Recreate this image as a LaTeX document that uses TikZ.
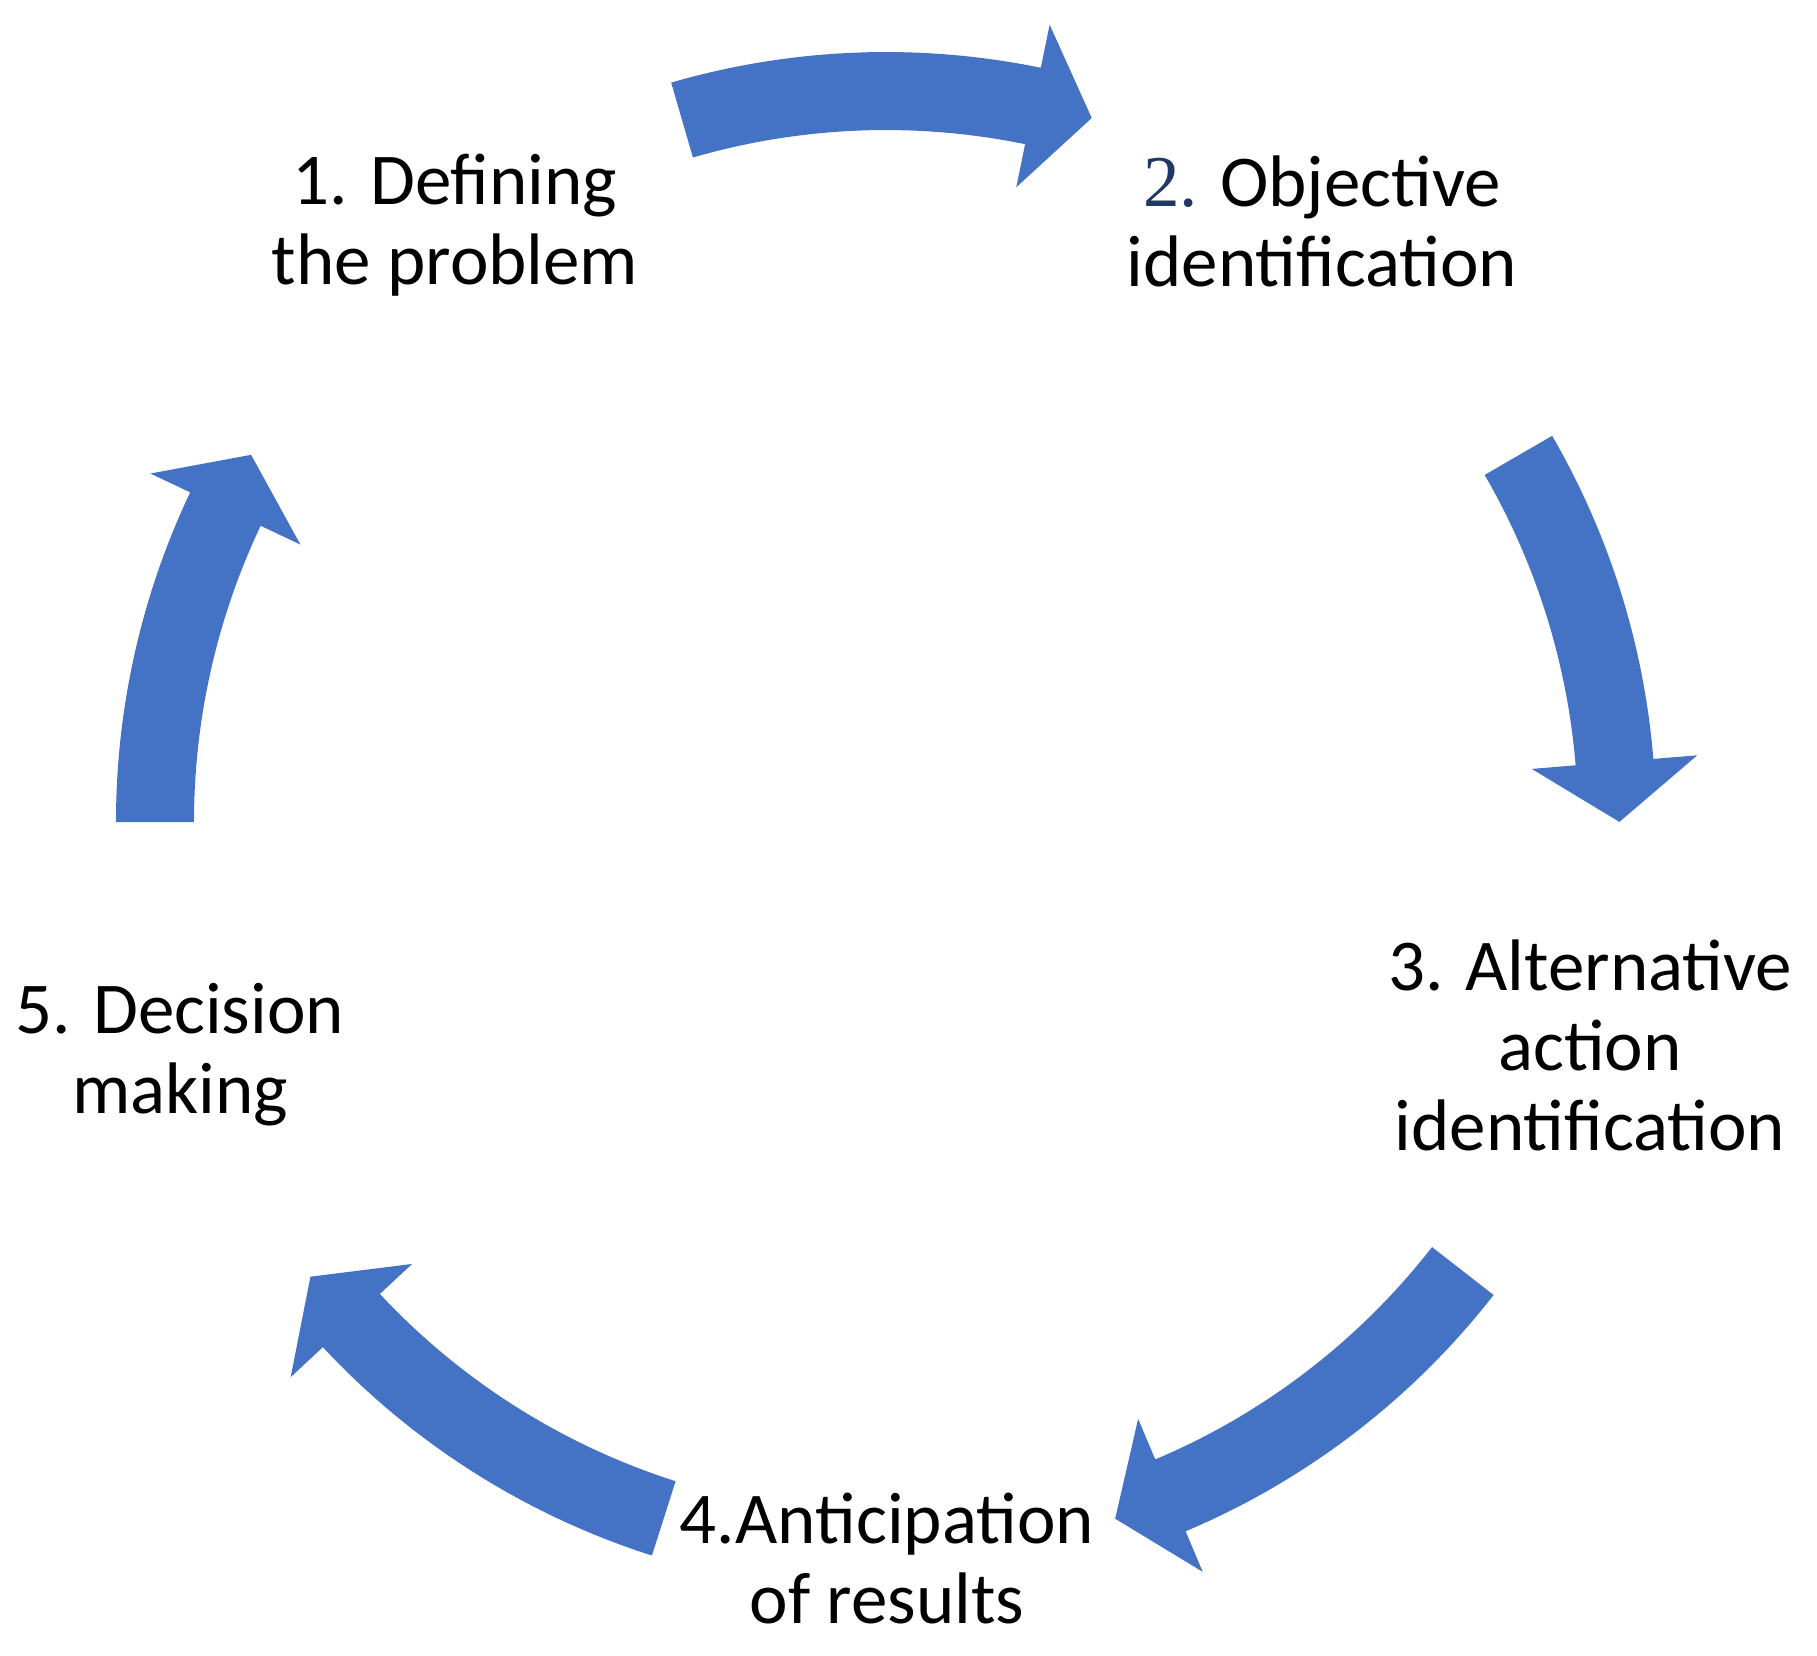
\documentclass[tikz,border=0pt]{standalone}
\usepackage{fontspec}
\setmainfont{Carlito}
\newfontfamily\numfont{Liberation Serif}
\usetikzlibrary{calc}
\definecolor{cycleblue}{HTML}{4472C4}
\definecolor{numblue}{HTML}{1F3864}

\begin{document}
\begin{tikzpicture}[x=0.5pt, y=0.5pt,
  every node/.style={align=center, anchor=base, inner sep=0pt,
    font=\fontsize{36.5}{40}\selectfont},
  cyclearrow/.style={fill=cycleblue, draw=none}]
  \useasboundingbox (-886,-834) rectangle (931,822);

  % nodes placed at the baseline of their last line
  \node (def) at (-431, 537) {1. Defining\\the problem};
  \node (obj) at (436, 535) {{\numfont\color{numblue}2.} Objective\\identification};
  \node (alt) at (704, -328) {3. Alternative\\action\\identification};
  \node (ant) at (1, -801) {4.Anticipation\\of results};
  \node (dec) at (-706, -291) {5. Decision\\making};

  % arrows on a circle of radius 731, clockwise from \a to \b
  \foreach \a/\b in {106.2/78.4, 30.1/4.7, -37.9/-67.1, -107.7/-137, 180/154.65}
    \fill[cyclearrow] (\a:770) arc[start angle=\a, end angle=\b, radius=770]
      -- (\b:814) -- ($(\b:731)+(\b-90:60)$) -- (\b:648) -- (\b:692)
      arc[start angle=\b, end angle=\a, radius=692] -- cycle;
\end{tikzpicture}
\end{document}
